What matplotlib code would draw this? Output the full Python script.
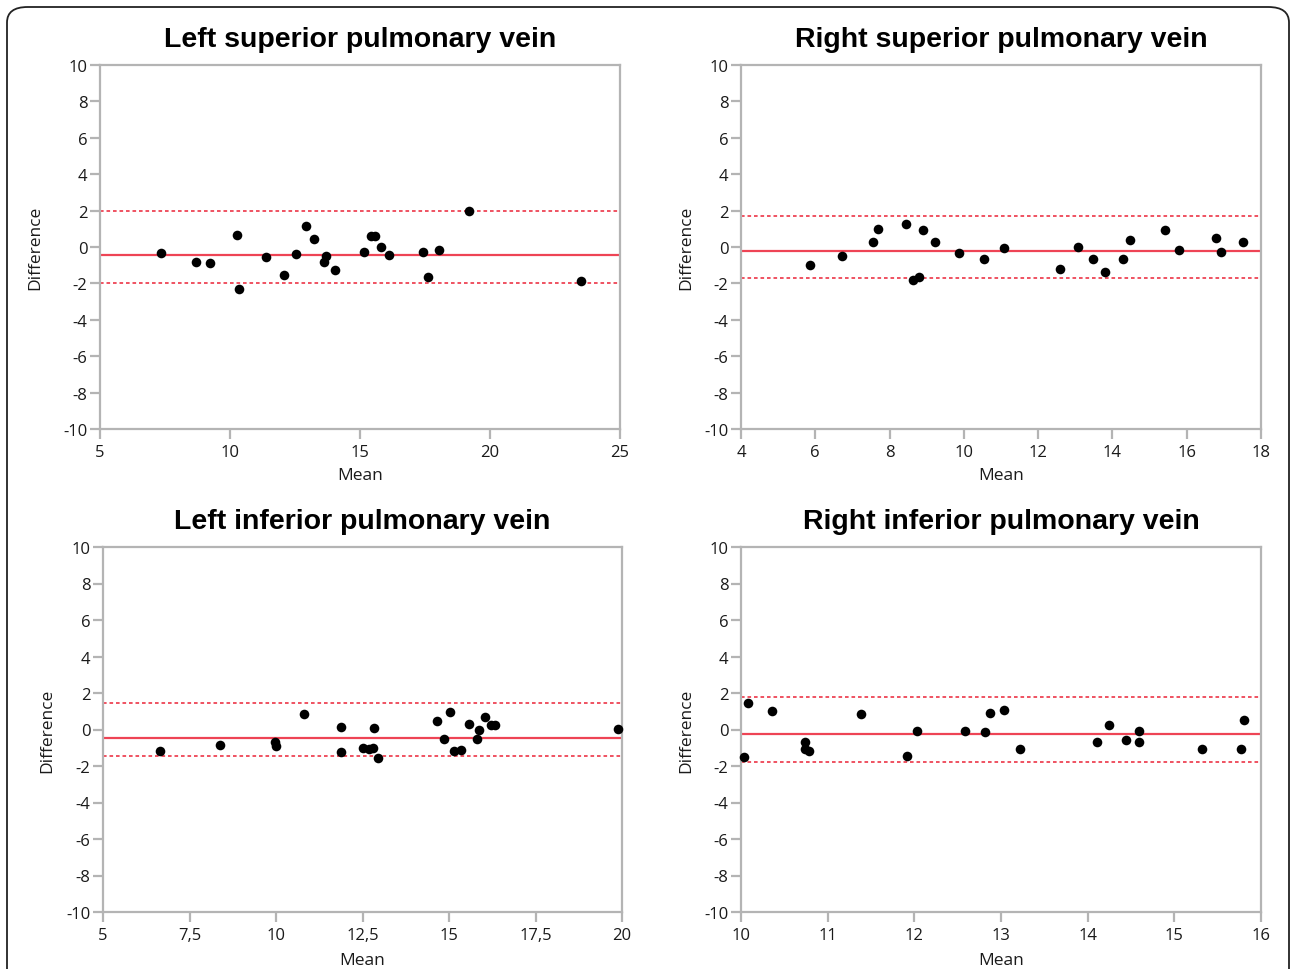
import matplotlib
matplotlib.use("Agg")
import matplotlib.pyplot as plt
from matplotlib.patches import FancyBboxPatch
from matplotlib.ticker import FuncFormatter

plt.rcParams['font.family'] = ['Open Sans', 'DejaVu Sans']
plt.rcParams['axes.unicode_minus'] = False

titles = ["Left superior pulmonary vein", "Right superior pulmonary vein",
          "Left inferior pulmonary vein", "Right inferior pulmonary vein"]

lspv_mean = [7.33, 8.68, 9.24, 10.26, 10.35, 11.39, 12.06, 12.55, 12.91, 13.22, 13.69, 13.61,
             14.04, 15.17, 15.43, 15.56, 15.79, 16.11, 17.42, 17.62, 18.03, 19.19, 23.50]
lspv_diff = [-0.32, -0.84, -0.90, 0.67, -2.30, -0.53, -1.54, -0.36, 1.18, 0.46, -0.51, -0.80,
             -1.28, -0.27, 0.59, 0.63, -0.02, -0.44, -0.27, -1.64, -0.17, 1.96, -1.85]
lspv_lines = [-0.44, 1.96, -1.96]

rspv_mean = [5.87, 6.72, 7.56, 7.70, 8.43, 8.62, 8.79, 8.90, 9.23, 9.88, 10.53, 11.08,
             12.59, 13.06, 13.48, 13.79, 14.29, 14.46, 15.41, 15.78, 16.80, 16.92, 17.51]
rspv_diff = [-0.99, -0.47, 0.30, 1.01, 1.27, -1.79, -1.64, 0.91, 0.26, -0.35, -0.67, -0.06,
             -1.19, 0.0, -0.67, -1.38, -0.67, 0.41, 0.91, -0.17, 0.50, -0.30, 0.30]
rspv_lines = [-0.22, 1.71, -1.71]

lipv_mean = [6.64, 8.37, 9.97, 10.0, 10.82, 11.87, 11.88, 12.51, 12.68, 12.81, 12.83, 12.94,
             14.64, 14.86, 15.04, 15.15, 15.35, 15.59, 15.87, 15.81, 16.05, 16.21, 16.34, 19.88]
lipv_diff = [-1.20, -0.85, -0.67, -0.93, 0.87, 0.11, -1.26, -1.02, -1.07, -1.02, 0.06, -1.57,
             0.46, -0.50, 0.98, -1.20, -1.15, 0.28, 0.0, -0.50, 0.69, 0.24, 0.24, 0.02]
lipv_lines = [-0.46, 1.43, -1.46]

ripv_mean = [10.03, 10.08, 10.36, 10.74, 10.74, 10.79, 11.38, 11.91, 12.03, 12.59, 12.81,
             12.87, 13.04, 13.22, 14.11, 14.25, 14.44, 14.59, 14.59, 15.32, 15.77, 15.80]
ripv_diff = [-1.50, 1.44, 1.0, -0.69, -1.07, -1.20, 0.83, -1.46, -0.07, -0.07, -0.15,
             0.89, 1.06, -1.06, -0.67, 0.24, -0.59, -0.07, -0.70, -1.06, -1.06, 0.54]
ripv_lines = [-0.24, 1.78, -1.76]

xticks_list = [[5, 10, 15, 20, 25], [4, 6, 8, 10, 12, 14, 16, 18],
               [5, 7.5, 10, 12.5, 15, 17.5, 20], [10, 11, 12, 13, 14, 15, 16]]
yticks = list(range(-10, 11, 2))

data = [(lspv_mean, lspv_diff, lspv_lines), (rspv_mean, rspv_diff, rspv_lines),
        (lipv_mean, lipv_diff, lipv_lines), (ripv_mean, ripv_diff, ripv_lines)]

W, H = 1292, 970
fig = plt.figure(figsize=(W / 100, H / 100), dpi=100)

# axes boxes in pixels: left, right, top, bottom
boxes = [(100, 620, 66, 430), (741, 1261, 66, 430),
         (103, 622, 548, 913), (741, 1261, 548, 913)]
ylab_x = [35, 686, 47, 686]
xlab_pad = [5, 5, 6, 6]

border = FancyBboxPatch((7 / W, -30 / H), (W - 10) / W, (H + 22) / H,
                        boxstyle="round,pad=0,rounding_size=0.016",
                        transform=fig.transFigure, fill=False,
                        edgecolor='#222222', linewidth=1.3)
fig.patches.append(border)

grey = '#b4b4b4'
red = '#ee4455'

def fmt(v, pos):
    s = ('%g' % v)
    return s.replace('.', ',')

for i, (box, (xm, yd, lines)) in enumerate(zip(boxes, data)):
    l, r, t, b = box
    ax = fig.add_axes([l / W, 1 - b / H, (r - l) / W, (b - t) / H])
    xt = xticks_list[i]
    ax.set_xlim(xt[0], xt[-1])
    ax.set_ylim(-10, 10)
    ax.axhline(lines[0], color=red, lw=1.6, zorder=2)
    ax.axhline(lines[1], color=red, lw=1.3, ls=(0, (2, 1.6)), zorder=2)
    ax.axhline(lines[2], color=red, lw=1.3, ls=(0, (2, 1.6)), zorder=2)
    ax.scatter(xm, yd, s=48, color='black', zorder=3, clip_on=False, linewidths=0)
    ax.set_xticks(xt)
    ax.set_yticks(yticks)
    ax.xaxis.set_major_formatter(FuncFormatter(fmt))
    for sp in ax.spines.values():
        sp.set_color(grey)
        sp.set_linewidth(1.6)
    ax.tick_params(axis='both', colors=grey, labelcolor='#1a1a1a', labelsize=12,
                   length=7, width=1.6, direction='out')
    ax.tick_params(axis='x', pad=4)
    ax.tick_params(axis='y', pad=2)
    ax.set_title(titles[i], fontsize=20.5, fontweight='bold', pad=14, color='black',
                 family=['Liberation Sans', 'DejaVu Sans'])
    ax.set_xlabel('Mean', fontsize=12.5, labelpad=xlab_pad[i], color='#1a1a1a')
    fig.text(ylab_x[i] / W, 1 - ((t + b) / 2) / H, 'Difference', rotation=90,
             fontsize=12.5, ha='center', va='center', color='#1a1a1a')

fig.savefig('out.png', dpi=100, facecolor='white')
